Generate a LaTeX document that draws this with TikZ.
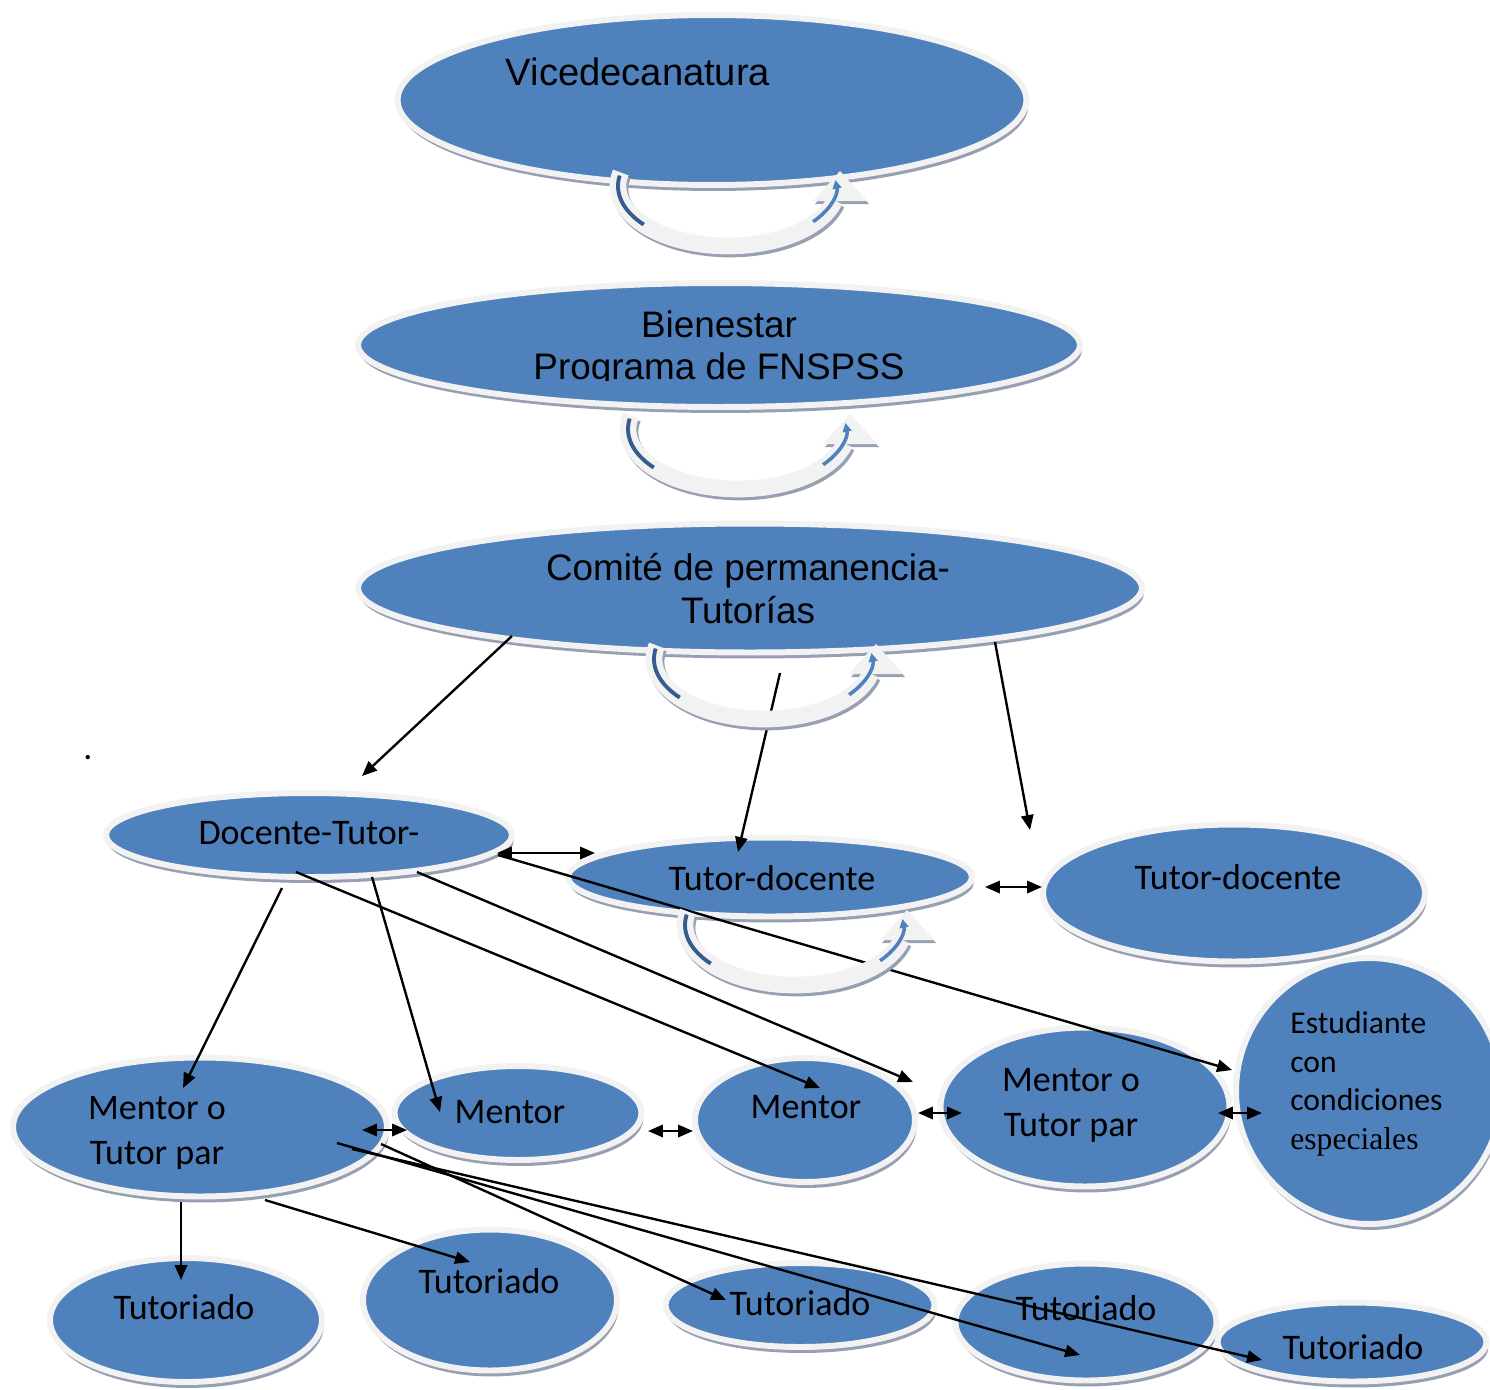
\documentclass[tikz,border=0pt]{standalone}
\usepackage{fontspec}
\setmainfont{Carlito}
\newfontfamily\arialfont{Liberation Sans}
\newfontfamily\timesfont{Liberation Serif}
\usepackage{tikz}
\usetikzlibrary{shapes,arrows,arrows.meta,shadows}

\definecolor{nodeblue}{RGB}{79,129,189}
\definecolor{ringgray}{RGB}{242,242,242}
\definecolor{shadowgray}{RGB}{150,160,178}
\definecolor{stripeblue}{RGB}{52,92,142}

\tikzset{
  main node/.style={ellipse, fill=nodeblue, draw=ringgray, line width=3.4pt, inner sep=0pt,
    drop shadow={shadow xshift=1pt, shadow yshift=-3.4pt, fill=shadowgray, opacity=1}},
  label text/.style={font=\fontsize{20.5}{25.5}\selectfont, align=center, inner sep=0pt},
  top text/.style={font=\arialfont\fontsize{21}{24.4}\selectfont, align=center, inner sep=0pt},
  loop arrow/.pic={
    % shadow
    \begin{scope}[shift={(2,3)}]
      \draw[shadowgray, line width=9.5pt]
        (193:110 and 60) arc[start angle=193, end angle=14, x radius=110, y radius=60];
      \fill[shadowgray] (85,15) -- (112,-15) -- (139,15) -- cycle;
    \end{scope}
    % band and head
    \draw[ringgray, line width=9.5pt]
      (193:110 and 60) arc[start angle=193, end angle=14, x radius=110, y radius=60];
    \fill[ringgray] (85,15) -- (112,-15) -- (139,15) -- cycle;
    % blue stripes
    \draw[stripeblue, line width=2.2pt]
      (190:110 and 60) arc[start angle=190, end angle=140, x radius=110, y radius=60];
    \draw[nodeblue, line width=2pt, -{Triangle[length=5pt,width=5pt]}]
      (38:108 and 58) arc[start angle=38, end angle=-6, x radius=108, y radius=58];
  }
}

\begin{document}
\begin{tikzpicture}[x=0.02cm, y=-0.02cm, >={Triangle[length=8.5pt,width=7pt]}]
\useasboundingbox (0,0) rectangle (1490,1389);

% ellipses
\node[main node, minimum width=12.58cm, minimum height=3.4cm] (1) at (712,100) {};
\node[main node, minimum width=14.44cm, minimum height=2.48cm] (2) at (719,345) {};
\node[main node, minimum width=15.68cm, minimum height=2.58cm] (3) at (750,588) {};
\node[main node, minimum width=8.12cm, minimum height=1.68cm] (4) at (309,835) {};
\node[main node, minimum width=8.08cm, minimum height=1.58cm] (5) at (770,877) {};
\node[main node, minimum width=7.64cm, minimum height=2.74cm] (6) at (1234,893) {};
\node[main node, minimum width=5.32cm, minimum height=5.32cm] (7) at (1369,1091) {};
\node[main node, minimum width=7.48cm, minimum height=2.78cm] (8) at (200,1127) {};
\node[main node, minimum width=4.94cm, minimum height=1.88cm] (9) at (518,1113) {};
\node[main node, minimum width=4.4cm, minimum height=2.48cm] (10) at (805,1120) {};
\node[main node, minimum width=5.78cm, minimum height=3.18cm] (11) at (1085,1107) {};
\node[main node, minimum width=5.44cm, minimum height=2.48cm] (12) at (186,1320) {};
\node[main node, minimum width=5.08cm, minimum height=2.82cm] (13) at (490,1300) {};
\node[main node, minimum width=5.38cm, minimum height=1.68cm] (14) at (800,1305) {};
\node[main node, minimum width=5.22cm, minimum height=2.34cm] (15) at (1086,1322) {};
\node[main node, minimum width=5.38cm, minimum height=1.58cm] (16) at (1352,1342) {};

% texts
\node[top text, font=\arialfont\fontsize{21.7}{24.4}\selectfont] (t1) at (638,72) {Vicedecanatura};
\begin{scope}
  \clip (300,300) rectangle (1100,380);
  \node[top text] (t2) at (719,349) {Bienestar\\Programa de FNSPSS};
\end{scope}
\node[top text] (t3) at (748,589) {Comité de permanencia-\\Tutorías};
\node[label text] (t4) at (309,833) {Docente-Tutor-};
\node[label text] (t5) at (772,878) {Tutor-docente};
\node[label text] (t6) at (1238,877) {Tutor-docente};
\node[label text, font=\fontsize{18}{22}\selectfont, align=left, anchor=west] (t7) at (1290,1084)
  {Estudiante\\con\\condiciones\\{\timesfont especiales}};
\begin{scope}
  \clip (0,1050) rectangle (400,1168);
  \node[label text] (t8) at (157,1133) {Mentor o\\Tutor par};
\end{scope}
\node[label text] (t9) at (510,1112) {Mentor};
\node[label text] (t10) at (806,1107) {Mentor};
\node[label text] (t11) at (1071,1105) {Mentor o\\Tutor par};
\node[label text] (t12) at (184,1307) {Tutoriado};
\node[label text] (t13) at (489,1281) {Tutoriado};
\node[label text] (t14) at (800,1303) {Tutoriado};
\node[label text] (t15) at (1086,1308) {Tutoriado};
\node[label text] (t16) at (1353,1347) {Tutoriado};
\node[label text] (dot) at (88,758) {.};

% connector ends
\coordinate (a1) at (512,636);  \coordinate (a2) at (362,776);
\coordinate (b1) at (780,673);  \coordinate (b2) at (738,852);
\coordinate (c1) at (995,642);  \coordinate (c2) at (1030,830);
\coordinate (d1) at (497,853);  \coordinate (d2) at (595,853);
\coordinate (e1) at (498,855);  \coordinate (e2) at (1232,1070);
\coordinate (f1) at (282,888);  \coordinate (f2) at (183,1088);
\coordinate (g1) at (372,877);  \coordinate (g2) at (440,1112);
\coordinate (h1) at (296,872);  \coordinate (h2) at (820,1088);
\coordinate (i1) at (417,872);  \coordinate (i2) at (913,1082);
\coordinate (j1) at (985,887);  \coordinate (j2) at (1042,887);
\coordinate (k1) at (362,1130); \coordinate (k2) at (407,1130);
\coordinate (l1) at (648,1131); \coordinate (l2) at (693,1131);
\coordinate (m1) at (918,1113); \coordinate (m2) at (962,1113);
\coordinate (n1) at (1218,1113); \coordinate (n2) at (1262,1113);
\coordinate (o1) at (181,1202); \coordinate (o2) at (181,1280);
\coordinate (p1) at (265,1200); \coordinate (p2) at (470,1262);
\coordinate (q1) at (381,1144); \coordinate (q2) at (726,1300);
\coordinate (r1) at (337,1143); \coordinate (r2) at (1080,1355);
\coordinate (s1) at (352,1149); \coordinate (s2) at (1262,1360);

\path[line width=1.35pt]
  (a1) edge[->] (a2)
  (b1) edge[->] (b2)
  (c1) edge[->] (c2)
  (d1) edge[<->] (d2)
  (e1) edge[->] (e2)
  (f1) edge[->] (f2)
  (g1) edge[->] (g2)
  (h1) edge[->] (h2)
  (i1) edge[->] (i2)
  (j1) edge[<->] (j2)
  (k1) edge[<->] (k2)
  (l1) edge[<->] (l2)
  (m1) edge[<->] (m2)
  (n1) edge[<->] (n2)
  (o1) edge[->] (o2)
  (p1) edge[->] (p2)
  (q1) edge[->] (q2)
  (r1) edge[->] (r2)
  (s1) edge[->] (s2);

% loops under the nodes
\pic at (728,186) {loop arrow};
\pic at (738,429) {loop arrow};
\pic at (764,659) {loop arrow};
\pic at (795,925) {loop arrow};

\end{tikzpicture}
\end{document}
